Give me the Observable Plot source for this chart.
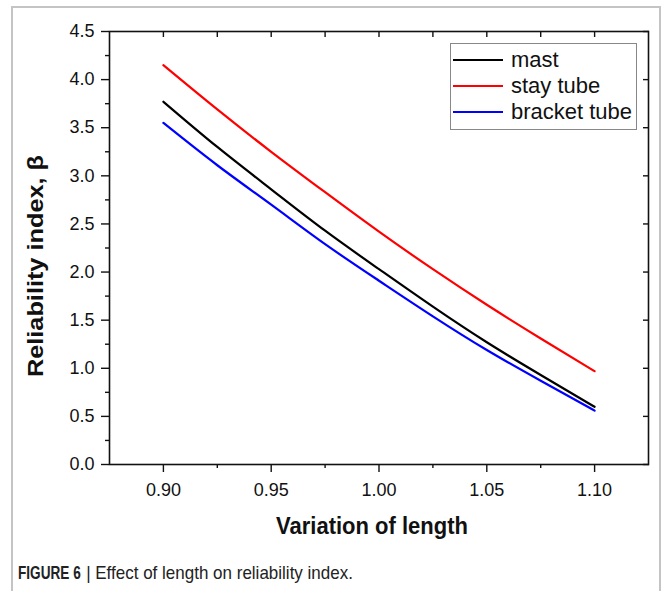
<!DOCTYPE html>
<html><head><meta charset="utf-8">
<script src="https://cdn.jsdelivr.net/npm/d3@7"></script>
<script src="https://cdn.jsdelivr.net/npm/@observablehq/plot@0.6"></script>
<style>
body{margin:0;background:#fff;}
#wrap{position:relative;width:665px;height:591px;overflow:hidden;font-family:"Liberation Sans",Arial,sans-serif;color:#111;}
#border{position:absolute;left:11px;top:6px;width:646px;height:620px;border:2px solid #c4c4c4;border-bottom:none;}
#chart{position:absolute;left:0;top:0;}
#chart svg [aria-label$="tick label"]{font-size:18px;fill:#111;}
.lab{position:absolute;white-space:nowrap;font-weight:bold;font-size:22px;line-height:1;}
#xlab{left:372px;top:515px;transform:translateX(-50%) scaleY(1.08);}
#ylab{left:36px;top:266px;transform:translate(-50%,-50%) rotate(-90deg) scaleX(1.15);}
#legend{position:absolute;left:450px;top:43px;width:185px;height:85px;border:1px solid #888;background:#fff;}
.row{position:absolute;left:0;height:26px;}
.sw{position:absolute;left:2px;width:50px;height:2px;}
.lt{position:absolute;left:60px;font-size:22px;line-height:1;white-space:nowrap;}
#caption{position:absolute;left:18px;top:563px;font-size:17px;line-height:1;white-space:nowrap;color:#222;transform:scaleY(1.12);transform-origin:left top;}
#caption b{display:inline-block;transform:scaleX(0.8);transform-origin:left;margin-right:-15px;}
</style></head>
<body>
<div id="wrap">
  <div id="border"></div>
  <div id="chart"></div>
  <div class="lab" id="xlab"></div>
  <div class="lab" id="ylab"></div>
  <div id="legend"></div>
  <div id="caption"><b>FIGURE 6</b> | Effect of length on reliability index.</div>
</div>
<script>
// ---- data ----
const lengths = [0.900, 0.925, 0.950, 0.975, 1.000, 1.025, 1.050, 1.075, 1.100];
const mast    = [3.77, 3.30, 2.86, 2.43, 2.03, 1.64, 1.27, 0.93, 0.60];
const stay    = [4.15, 3.69, 3.25, 2.83, 2.42, 2.03, 1.66, 1.31, 0.97];
const bracket = [3.55, 3.11, 2.70, 2.29, 1.91, 1.54, 1.19, 0.87, 0.56];
const seriesNames = ["mast", "stay tube", "bracket tube"];
const seriesColors = ["#000000", "#ff0000", "#0000ff"];
const xMajor = [0.90, 0.95, 1.00, 1.05, 1.10];
const xMinor = [0.925, 0.975, 1.025, 1.075];
const xTop = [0.900, 0.925, 0.950, 0.975, 1.000, 1.025, 1.050, 1.075, 1.100];
const yMajor = [0.0, 0.5, 1.0, 1.5, 2.0, 2.5, 3.0, 3.5, 4.0, 4.5];
const yMinor = [0.25, 0.75, 1.25, 1.75, 2.25, 2.75, 3.25, 3.75, 4.25];
const xTitle = "Variation of length";
const yTitle = "Reliability index, β";

const valuesBySeries = [mast, stay, bracket];
const rows = [];
seriesNames.forEach((s, i) => lengths.forEach((x, j) => rows.push({series: s, x, y: valuesBySeries[i][j]})));

const blank = () => "";
const chart = Plot.plot({
  width: 665, height: 545,
  marginLeft: 109, marginRight: 17, marginTop: 31, marginBottom: 81,
  style: {fontFamily: "Liberation Sans, Arial, sans-serif", fontSize: "17px", color: "#111", background: "transparent"},
  x: {domain: [0.875, 1.125]},
  y: {domain: [0, 4.5]},
  color: {domain: seriesNames, range: seriesColors},
  marks: [
    Plot.axisX(xMajor, {anchor: "bottom", tickSize: 8, tickPadding: 11, tickFormat: d3.format(".2f"), label: null, strokeWidth: 1.4}),
    Plot.axisX(xMinor, {anchor: "bottom", tickSize: 4, tickFormat: blank, label: null, strokeWidth: 1.4}),
    Plot.axisX(xTop, {anchor: "top", tickSize: -5, tickFormat: blank, label: null, strokeWidth: 1.4}),
    Plot.axisY(yMajor, {anchor: "left", tickSize: 8, tickPadding: 7, tickFormat: d3.format(".1f"), label: null, strokeWidth: 1.4}),
    Plot.axisY(yMinor, {anchor: "left", tickSize: 4, tickFormat: blank, label: null, strokeWidth: 1.4}),
    Plot.axisY(yMajor, {anchor: "right", tickSize: -6, tickFormat: blank, label: null, strokeWidth: 1.4}),
    Plot.line(rows, {x: "x", y: "y", z: "series", stroke: "series", strokeWidth: 2.2, curve: "natural"}),
    Plot.frame({stroke: "#111", strokeWidth: 1.6})
  ]
});
document.getElementById("chart").appendChild(chart);
document.getElementById("xlab").textContent = xTitle;
document.getElementById("ylab").textContent = yTitle;

// legend
const leg = document.getElementById("legend");
const rowTops = [3, 29, 55];
seriesNames.forEach((s, i) => {
  const r = document.createElement("div");
  r.className = "row";
  r.style.top = rowTops[i] + "px";
  r.style.width = "185px";
  const sw = document.createElement("div");
  sw.className = "sw";
  sw.style.top = "12px";
  sw.style.background = seriesColors[i];
  const t = document.createElement("div");
  t.className = "lt";
  t.style.top = "2px";
  t.textContent = s;
  r.appendChild(sw); r.appendChild(t);
  leg.appendChild(r);
});
</script>
</body></html>
